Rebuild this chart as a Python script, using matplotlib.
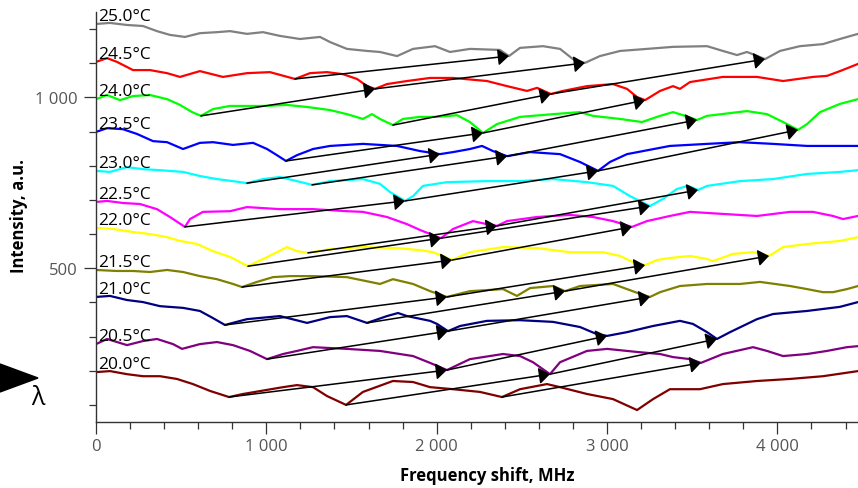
import numpy as np
import matplotlib
matplotlib.use("Agg")
import matplotlib.pyplot as plt
from matplotlib.ticker import MultipleLocator, FuncFormatter
from matplotlib.patches import Polygon

plt.rcParams['font.family'] = ['Open Sans', 'DejaVu Sans']

# ---------------- data (frequency shift MHz, intensity a.u.) ----------------
temps = [20.0, 20.5, 21.0, 21.5, 22.0, 22.5, 23.0, 23.5, 24.0, 24.5, 25.0]
colors = ['#800000', '#800080', '#000080', '#808000', '#ffff00', '#ff00ff',
          '#00ffff', '#0000ff', '#00ff00', '#ff0000', '#808080']

f_200 = [0, 82, 182, 276, 376, 475, 569, 669, 781, 863, 1004, 1098, 1180, 1274, 1356, 1468, 1567, 1743, 1861, 1961,
         2096, 2254, 2383, 2489, 2647, 2724, 2882, 3035, 3176, 3270, 3369, 3545, 3680, 3880, 4074, 4267, 4473]
i_200 = [196, 199, 190, 184, 184, 176, 161, 141, 123, 132, 144, 152, 158, 152, 126, 100, 138, 170, 167, 152,
         146, 138, 123, 146, 161, 152, 132, 117, 85, 117, 146, 146, 161, 170, 176, 184, 199]

f_205 = [0, 65, 182, 276, 358, 452, 505, 610, 710, 804, 904, 1004, 1098, 1180, 1274, 1473, 1667, 1861, 1961, 2060,
         2195, 2389, 2489, 2565, 2665, 2724, 2882, 3000, 3176, 3311, 3387, 3487, 3551, 3680, 3857, 3939, 4033,
         4174, 4291, 4408, 4473]
i_205 = [278, 293, 275, 287, 293, 278, 264, 278, 284, 275, 258, 234, 249, 258, 269, 264, 258, 243, 223, 202,
         234, 249, 243, 225, 190, 225, 258, 264, 255, 249, 240, 234, 223, 249, 269, 258, 243,
         249, 258, 269, 272]

f_210 = [0, 82, 182, 276, 376, 511, 610, 687, 757, 886, 1080, 1239, 1374, 1473, 1591, 1708, 1773, 1826, 1961, 2002,
         2066, 2137, 2295, 2489, 2683, 2841, 2941, 3000, 3117, 3270, 3428, 3504, 3587, 3645, 3722, 3880, 3974,
         4174, 4367, 4473]
i_210 = [416, 419, 407, 401, 389, 384, 375, 354, 334, 351, 360, 340, 357, 360, 340, 360, 369, 360, 346, 337,
         316, 331, 346, 348, 343, 328, 307, 302, 313, 331, 346, 337, 313, 293, 313, 351, 366,
         375, 387, 401]

f_215 = [0, 123, 217, 317, 417, 511, 610, 710, 804, 857, 945, 1039, 1139, 1274, 1473, 1667, 1743, 1861, 1961, 2060,
         2195, 2389, 2471, 2548, 2683, 2753, 2841, 3035, 3117, 3193, 3252, 3311, 3428, 3587, 3780, 3898, 4074,
         4174, 4267, 4326, 4408, 4473]
i_215 = [495, 492, 492, 489, 495, 489, 477, 468, 454, 445, 460, 474, 477, 477, 474, 454, 468, 454, 433, 416,
         433, 439, 419, 442, 448, 433, 448, 454, 439, 425, 416, 430, 448, 454, 454, 460, 448,
         439, 430, 430, 439, 448]

f_220 = [0, 100, 217, 317, 417, 493, 593, 687, 787, 845, 892, 980, 1062, 1121, 1180, 1244, 1374, 1567, 1767, 1902,
         1978, 2049, 2090, 2195, 2389, 2589, 2782, 2976, 3076, 3152, 3223, 3293, 3369, 3487, 3587, 3622, 3739,
         3857, 3951, 4033, 4174, 4367, 4473]
i_220 = [618, 615, 606, 600, 591, 580, 571, 550, 533, 518, 506, 527, 547, 562, 550, 545, 556, 562, 559, 553,
         547, 533, 524, 547, 562, 559, 547, 547, 536, 518, 509, 524, 530, 536, 527, 521, 542,
         547, 536, 562, 571, 580, 591]

f_225 = [0, 65, 158, 258, 358, 434, 522, 552, 628, 787, 886, 1080, 1274, 1473, 1567, 1708, 1826, 1902, 1978, 2025,
         2096, 2213, 2295, 2354, 2413, 2589, 2782, 2917, 3035, 3146, 3234, 3369, 3487, 3680, 3880, 4074, 4209,
         4326, 4385, 4473]
i_225 = [694, 697, 691, 688, 673, 650, 621, 644, 665, 667, 679, 673, 673, 667, 665, 650, 629, 612, 597, 588,
         615, 638, 629, 624, 638, 650, 656, 650, 638, 621, 638, 653, 665, 659, 653, 665, 665,
         653, 644, 653]

f_230 = [0, 82, 182, 276, 376, 511, 610, 710, 804, 886, 980, 1080, 1180, 1268, 1374, 1567, 1667, 1726, 1814, 1861,
         1919, 2060, 2295, 2489, 2683, 2882, 3035, 3135, 3252, 3328, 3410, 3475, 3534, 3587, 3780, 3974, 4174,
         4367, 4473]
i_230 = [785, 782, 796, 790, 787, 782, 770, 761, 755, 749, 761, 767, 755, 744, 755, 761, 747, 723, 697, 711,
         741, 752, 755, 755, 761, 752, 741, 711, 682, 703, 732, 741, 729, 741, 755, 761, 776,
         782, 787]

f_235 = [0, 65, 158, 241, 335, 417, 511, 610, 687, 804, 922, 1004, 1062, 1115, 1180, 1274, 1374, 1567, 1767, 1902,
         2019, 2096, 2195, 2266, 2330, 2413, 2548, 2724, 2841, 2947, 3017, 3117, 3369, 3587, 3780, 3974, 4174,
         4367, 4473]
i_235 = [899, 910, 907, 893, 872, 869, 849, 867, 869, 861, 867, 849, 831, 814, 831, 849, 858, 864, 858, 843,
         834, 840, 849, 858, 843, 828, 840, 834, 811, 785, 811, 834, 858, 864, 869, 864, 858,
         858, 858]

f_240 = [0, 65, 141, 217, 317, 417, 493, 564, 616, 687, 787, 980, 1121, 1239, 1374, 1473, 1567, 1620, 1667, 1743,
         1802, 1902, 2002, 2119, 2195, 2272, 2354, 2489, 2683, 2841, 2917, 3076, 3205, 3311, 3387, 3446, 3528,
         3587, 3821, 3939, 4033, 4121, 4174, 4250, 4367, 4473]
i_240 = [995, 1007, 992, 1004, 1007, 995, 978, 957, 946, 966, 975, 975, 978, 972, 963, 951, 937, 951, 937, 919,
         937, 943, 943, 948, 928, 896, 922, 943, 951, 957, 946, 937, 928, 946, 957, 948, 934,
         946, 960, 951, 928, 905, 922, 957, 981, 995]

f_245 = [0, 65, 123, 182, 217, 317, 417, 493, 610, 745, 886, 1021, 1080, 1168, 1256, 1356, 1450, 1532, 1591, 1638,
         1708, 1826, 1961, 2096, 2295, 2413, 2530, 2589, 2670, 2741, 2882, 3035, 3117, 3176, 3223, 3311, 3387,
         3428, 3487, 3680, 3880, 4033, 4209, 4291, 4367, 4473]
i_245 = [1104, 1115, 1104, 1089, 1080, 1080, 1071, 1060, 1077, 1060, 1071, 1074, 1066, 1054, 1071, 1074, 1068, 1054, 1033, 1025,
         1039, 1048, 1057, 1057, 1048, 1033, 1019, 1028, 1010, 1019, 1033, 1039, 1025, 1001, 992, 1019, 1033,
         1025, 1045, 1060, 1060, 1048, 1060, 1063, 1077, 1098]

f_250 = [0, 82, 182, 276, 358, 434, 522, 610, 710, 787, 886, 980, 1080, 1197, 1315, 1374, 1473, 1591, 1667, 1767,
         1861, 1990, 2078, 2195, 2371, 2424, 2489, 2624, 2724, 2800, 2870, 2958, 3076, 3234, 3387, 3587, 3680,
         3763, 3821, 3868, 3927, 4015, 4132, 4267, 4367, 4473]
i_250 = [1215, 1218, 1212, 1209, 1194, 1183, 1177, 1188, 1191, 1194, 1186, 1191, 1180, 1171, 1177, 1162, 1142, 1136, 1133, 1121,
         1142, 1150, 1133, 1142, 1139, 1121, 1145, 1150, 1142, 1112, 1101, 1121, 1136, 1142, 1148, 1150, 1136,
         1124, 1133, 1124, 1112, 1136, 1150, 1156, 1171, 1186]

freqs = [f_200, f_205, f_210, f_215, f_220, f_225, f_230, f_235, f_240, f_245, f_250]
intens = [i_200, i_205, i_210, i_215, i_220, i_225, i_230, i_235, i_240, i_245, i_250]

# arrows: (index of lower-temperature curve, dip frequency there, dip frequency on next curve)
arrows = [
    (0, 781, 2060), (0, 1468, 2665), (0, 2383, 3551),
    (1, 1004, 2066), (1, 2060, 3000), (1, 2665, 3645),
    (2, 757, 2060), (2, 1591, 2753), (2, 2066, 3252),
    (3, 857, 2090), (3, 2060, 3223), (3, 2753, 3951),
    (4, 892, 2025), (4, 1244, 2354), (4, 2090, 3146),
    (5, 522, 1814), (5, 2025, 3252), (5, 2354, 3534),
    (6, 886, 2019), (6, 1268, 2413), (6, 1814, 2947),
    (7, 1115, 2272), (7, 2413, 3528), (7, 2947, 4121),
    (8, 616, 1638), (8, 1743, 2670), (8, 2272, 3223),
    (9, 1168, 2424), (9, 1638, 2870), (9, 2670, 3927),
]

x_ticks = [0, 1000, 2000, 3000, 4000]
y_ticks = [500, 1000]

# ---------------- figure ----------------
fig = plt.figure(figsize=(8.58, 4.89), dpi=100)
ax = fig.add_axes([96 / 858, 66 / 489, 762 / 858, 410 / 489])

for f, y, c, t in zip(freqs, intens, colors, temps):
    ax.plot(f, y, color=c, lw=1.6, zorder=2, solid_joinstyle='round')
    ax.text(15, y[0] + 12, f"{t:.1f}°C", fontsize=12.5, color='black',
            ha='left', va='baseline', zorder=5)

for k, fs, fe in arrows:
    ys = np.interp(fs, freqs[k], intens[k])
    ye = np.interp(fe, freqs[k + 1], intens[k + 1])
    ax.annotate('', xy=(fe, ye), xytext=(fs, ys),
                arrowprops=dict(arrowstyle='-|>,head_length=0.6,head_width=0.45',
                                color='black', lw=1.1, shrinkA=0, shrinkB=0,
                                mutation_scale=11), zorder=4)

ax.set_xlim(0, 4473)
ax.set_ylim(50, 1250)
ax.set_xticks(x_ticks)
ax.set_yticks(y_ticks)
ax.xaxis.set_minor_locator(MultipleLocator(200))
ax.yaxis.set_minor_locator(MultipleLocator(100))
fmt = FuncFormatter(lambda v, p: f"{int(round(v)):,}".replace(",", " "))
ax.xaxis.set_major_formatter(fmt)
ax.yaxis.set_major_formatter(fmt)

for s in ['top', 'right']:
    ax.spines[s].set_visible(False)
for s in ['left', 'bottom']:
    ax.spines[s].set_color('#333333')
    ax.spines[s].set_linewidth(1.0)

ax.tick_params(which='major', length=8.5, width=0.9, color='#333333',
               labelsize=12, labelcolor='#555555')
ax.tick_params(which='minor', length=5, width=0.9, color='#333333')
ax.tick_params(axis='x', which='major', pad=3)
ax.tick_params(axis='y', which='major', pad=5)

fig.text(487 / 858, 1 - 476 / 489, 'Frequency shift, MHz', ha='center', va='center',
         fontsize=12, fontweight='bold')
fig.text(19 / 858, 1 - 216 / 489, 'Intensity, a.u.', ha='center', va='center',
         rotation=90, fontsize=12, fontweight='bold')

tri = Polygon([(0, 1 - 365 / 489), (38 / 858, 1 - 379 / 489), (0, 1 - 393 / 489)],
              closed=True, transform=fig.transFigure, facecolor='black',
              edgecolor='black', clip_on=False)
fig.patches.append(tri)
fig.text(38 / 858, 1 - 399 / 489, 'λ', ha='center', va='center', fontsize=18,
         color='black')

fig.savefig('out.png', dpi=100)
